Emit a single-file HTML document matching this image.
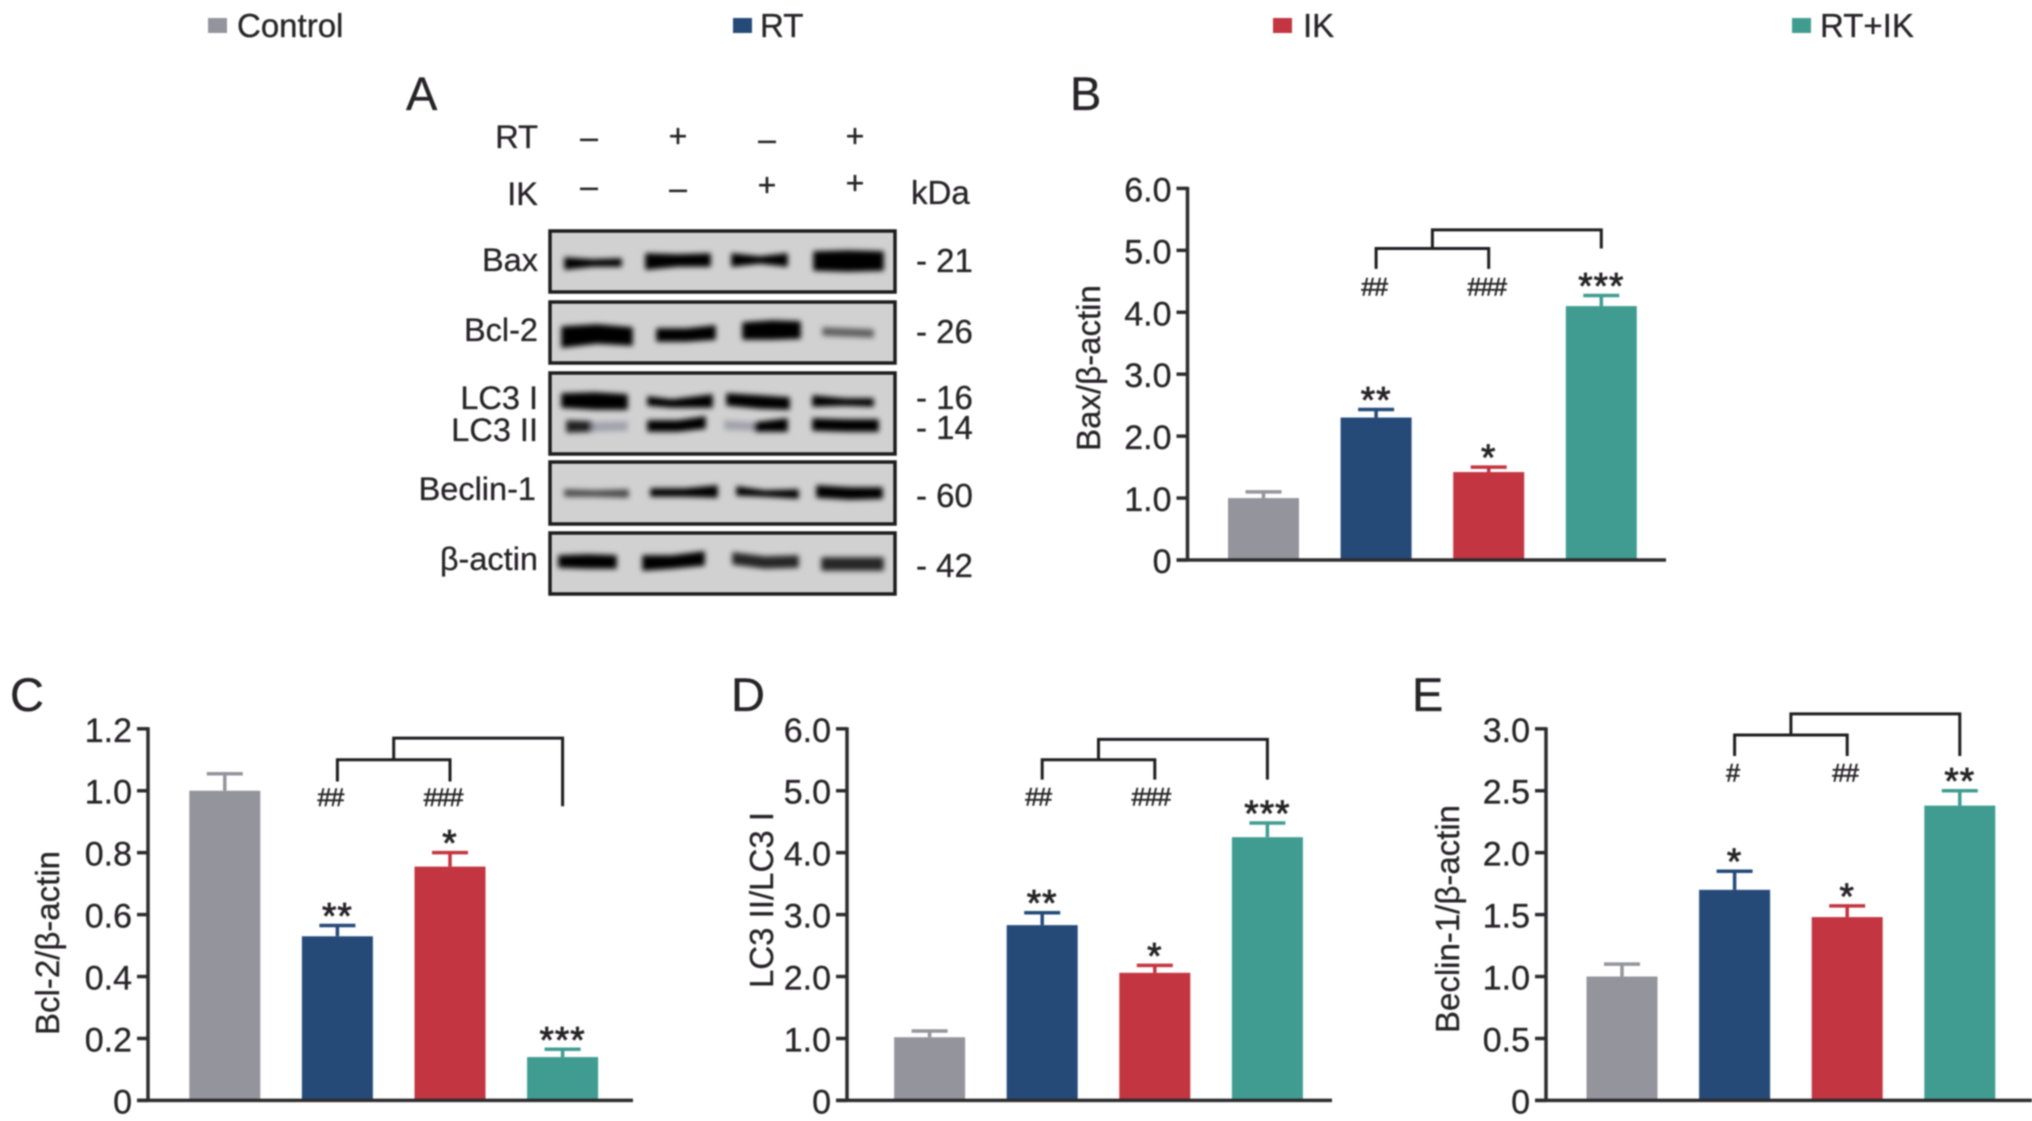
<!DOCTYPE html>
<html lang="en">
<head>
<meta charset="utf-8">
<title>Western blot and densitometry panels</title>
<style>
html,body{margin:0;padding:0;background:#fff;}
body{width:2032px;height:1121px;overflow:hidden;}
svg{display:block;filter:blur(0.7px);}
text{font-family:"Liberation Sans",sans-serif;fill:#262426;stroke:#262426;stroke-width:0.3px;}
.wb{font-size:33px;}
.wbr{font-size:32.5px;text-anchor:end;}
.sign{font-size:32px;text-anchor:middle;}
.letter{font-size:47px;}
.legend{font-size:33px;}
.bands polygon{stroke:currentColor;stroke-width:1.5px;}
</style>
</head>
<body>
<svg id="figure" xmlns="http://www.w3.org/2000/svg" width="2032" height="1121" viewBox="0 0 2032 1121">
<defs>
<filter id="bandBlur" x="-20%" y="-80%" width="140%" height="260%"><feGaussianBlur stdDeviation="2.7"/></filter>
</defs>

<g>
<g><rect x="208" y="18" width="19" height="15" fill="#94949c"/><text class="legend" x="237" y="37">Control</text></g>
<g><rect x="733" y="18" width="19" height="15" fill="#254a78"/><text class="legend" x="760" y="37">RT</text></g>
<g><rect x="1273" y="18" width="19" height="15" fill="#c23541"/><text class="legend" x="1303" y="37">IK</text></g>
<g><rect x="1792" y="18" width="19" height="15" fill="#409c90"/><text class="legend" x="1820" y="37">RT+IK</text></g>
</g>

<g>
<text class="letter" x="406" y="110">A</text>
<text class="wbr" x="538" y="148">RT</text>
<text class="wbr" x="538" y="205">IK</text>
<g>
<text class="sign" x="589" y="148">–</text><text class="sign" x="678" y="147">+</text><text class="sign" x="767" y="150">–</text><text class="sign" x="855" y="147">+</text>
<text class="sign" x="589" y="197">–</text><text class="sign" x="678" y="199">–</text><text class="sign" x="767" y="196">+</text><text class="sign" x="855" y="194">+</text>
</g>
<text class="wb" x="911" y="204">kDa</text>

<g>
<rect x="550" y="231" width="345" height="61" fill="#d1d1d1" stroke="#1c1c1c" stroke-width="3.5"/>
<g class="bands" filter="url(#bandBlur)" fill="#050505" color="#050505">
<polygon points="565,258 593,260 621,259 621,266 593,266 565,269"/>
<polygon points="646,254 678,255 710,254 710,266 678,266 646,269"/>
<polygon points="732,254 760,257 787,254 787,266 760,263 732,266"/>
<polygon points="814,252 848,251 883,252 883,270 848,271 814,270"/>
</g>
</g>
<g>
<rect x="550" y="302" width="345" height="61" fill="#d1d1d1" stroke="#1c1c1c" stroke-width="3.5"/>
<g class="bands" filter="url(#bandBlur)" fill="#050505" color="#050505">
<polygon points="562,327 597,325 632,328 632,345 597,343 562,347"/>
<polygon points="657,329 686,329 715,326 715,339 686,341 657,341"/>
<polygon points="743,323 772,321 800,322 800,338 772,339 743,339"/>
<polygon points="823,328 848,329 873,330 873,337 848,336 823,335" opacity="0.55"/>
</g>
</g>
<g>
<rect x="550" y="373" width="345" height="81" fill="#d1d1d1" stroke="#1c1c1c" stroke-width="3.5"/>
<g class="bands" filter="url(#bandBlur)" fill="#050505" color="#050505">
<polygon points="562,394 595,393 627,395 627,409 595,409 562,407"/>
<polygon points="648,397 672,400 712,395 712,407 672,407 648,405" />
<polygon points="727,394 760,396 789,398 789,409 760,408 727,405"/>
<polygon points="813,396 845,399 873,399 873,406 845,405 813,406"/>
<polygon points="567,421 592,422 592,431 567,432" opacity="0.85"/>
<polygon points="592,423 627,422 627,430 592,431" fill="#8c8c9c" color="#8c8c9c" opacity="0.7"/>
<polygon points="648,421 678,421 705,417 705,428 678,431 648,431"/>
<polygon points="725,421 755,423 755,430 725,429" fill="#8c8c9c" color="#8c8c9c" opacity="0.7"/>
<polygon points="755,423 787,419 787,431 755,431"/>
<polygon points="813,419 845,420 878,420 878,431 845,431 813,430"/>
</g>
</g>
<g>
<rect x="550" y="462" width="345" height="62" fill="#d1d1d1" stroke="#1c1c1c" stroke-width="3.5"/>
<g class="bands" filter="url(#bandBlur)" fill="#050505" color="#050505">
<polygon points="565,490 595,491 628,490 628,497 595,496 565,496" opacity="0.65"/>
<polygon points="651,489 685,489 717,486 717,497 685,496 651,496"/>
<polygon points="737,487 765,491 798,490 798,498 765,496 737,495"/>
<polygon points="817,486 850,488 882,488 882,498 850,499 817,497"/>
</g>
</g>
<g>
<rect x="550" y="533" width="345" height="61" fill="#d1d1d1" stroke="#1c1c1c" stroke-width="3.5"/>
<g class="bands" filter="url(#bandBlur)" fill="#050505" color="#050505">
<polygon points="559,556 588,555 616,556 616,568 588,568 559,567"/>
<polygon points="643,556 672,556 704,552 704,565 672,568 643,570"/>
<polygon points="733,553 765,557 798,556 798,567 765,568 733,564" opacity="0.82"/>
<polygon points="822,558 852,558 883,558 883,570 852,570 822,570" opacity="0.82"/>
</g>
</g>

<text class="wbr" x="538" y="271">Bax</text>
<text class="wbr" x="538" y="341">Bcl-2</text>
<text class="wbr" x="538" y="409">LC3 I</text>
<text class="wbr" x="538" y="441">LC3 II</text>
<text class="wbr" x="536" y="500">Beclin-1</text>
<text class="wbr" x="538" y="570">β-actin</text>

<g>
<text class="wb" x="916" y="272">- 21</text>
<text class="wb" x="916" y="343">- 26</text>
<text class="wb" x="916" y="409">- 16</text>
<text class="wb" x="916" y="439">- 14</text>
<text class="wb" x="916" y="507">- 60</text>
<text class="wb" x="916" y="577">- 42</text>
</g>
</g>
</svg>

<script>
const categories = ['Control', 'RT', 'IK', 'RT+IK'];
const barColors = ['#94949c', '#254a78', '#c23541', '#409c90'];

const panelBValues = [1.0, 2.3, 1.42, 4.1];
const panelBErrors = [0.1, 0.13, 0.08, 0.17];
const panelBTicks = [0, 1, 2, 3, 4, 5, 6];
const panelBTickLabels = ['0', '1.0', '2.0', '3.0', '4.0', '5.0', '6.0'];
const panelBStars = ['', '**', '*', '***'];
const panelBHashes = ['', '##', '###', ''];
const panelBHashLevel = [4.4];
const panelBInnerBracket = [5.03, 4.7, 4.7];
const panelBOuterBracket = [5.33, 5.03, 5.03];

const panelCValues = [1.0, 0.53, 0.755, 0.14];
const panelCErrors = [0.055, 0.035, 0.045, 0.025];
const panelCTicks = [0, 0.2, 0.4, 0.6, 0.8, 1.0, 1.2];
const panelCTickLabels = ['0', '0.2', '0.4', '0.6', '0.8', '1.0', '1.2'];
const panelCStars = ['', '**', '*', '***'];
const panelCHashes = ['', '##', '###', ''];
const panelCHashLevel = [0.977];
const panelCInnerBracket = [1.1, 1.03, 1.03];
const panelCOuterBracket = [1.17, 1.1, 0.95];

const panelDValues = [1.02, 2.83, 2.06, 4.25];
const panelDErrors = [0.1, 0.2, 0.12, 0.23];
const panelDTicks = [0, 1, 2, 3, 4, 5, 6];
const panelDTickLabels = ['0', '1.0', '2.0', '3.0', '4.0', '5.0', '6.0'];
const panelDStars = ['', '**', '*', '***'];
const panelDHashes = ['', '##', '###', ''];
const panelDHashLevel = [4.89];
const panelDInnerBracket = [5.5, 5.18, 5.18];
const panelDOuterBracket = [5.83, 5.5, 5.18];

const panelEValues = [1.0, 1.7, 1.48, 2.38];
const panelEErrors = [0.1, 0.15, 0.09, 0.12];
const panelETicks = [0, 0.5, 1.0, 1.5, 2.0, 2.5, 3.0];
const panelETickLabels = ['0', '0.5', '1.0', '1.5', '2.0', '2.5', '3.0'];
const panelEStars = ['', '*', '*', '**'];
const panelEHashes = ['', '#', '##', ''];
const panelEHashLevel = [2.64];
const panelEInnerBracket = [2.95, 2.78, 2.78];
const panelEOuterBracket = [3.12, 2.95, 2.78];

const svgNS = 'http://www.w3.org/2000/svg';
const figure = document.getElementById('figure');

function add(parent, tag, attrs, content) {
  const el = document.createElementNS(svgNS, tag);
  for (const k in attrs) el.setAttribute(k, attrs[k]);
  if (content !== undefined) el.textContent = content;
  parent.appendChild(el);
  return el;
}

function drawPanel(p) {
  const g = add(figure, 'g', {});
  
  
  const y = v => p.bottom - (v / p.yMax) * (p.bottom - p.top);
  const x = i => p.x0 + p.step * i;
  const ink = '#2c2c2e';

  const letter = add(g, 'text', {x: p.letterX, y: p.letterY, 'font-size': 47}, p.letter);
  
  

  const yLabel = add(g, 'text', {x: p.titleX, y: p.titleY, 'font-size': 33, 'text-anchor': 'middle', transform: 'rotate(-90 ' + p.titleX + ' ' + p.titleY + ')'}, p.title);
  
  

  p.values.forEach((v, i) => {
    const bw = p.barWidth;
    const bar = add(g, 'rect', {x: x(i) - bw / 2, y: y(v), width: bw, height: p.bottom - y(v), fill: barColors[i]});
    
    

    const top = y(v + p.errors[i]);
    const err = add(g, 'path', {d: 'M' + x(i) + ' ' + y(v) + 'V' + top + 'M' + (x(i) - 18) + ' ' + top + 'H' + (x(i) + 18), stroke: barColors[i], 'stroke-width': 3.5, fill: 'none'});
    
    

    if (p.stars[i]) {
      const star = add(g, 'text', {x: x(i), y: top + 3, 'font-size': 37, 'text-anchor': 'middle', 'letter-spacing': 1, style: 'stroke-width:0.8px'}, p.stars[i]);
      
      
    }
    if (p.hashes[i]) {
      const hash = add(g, 'text', {x: x(i) + p.hashShift, y: y(p.hashLevel[0]) + 8, 'font-size': 25, 'text-anchor': 'middle', 'letter-spacing': -1, style: 'stroke-width:0.6px'}, p.hashes[i]);
      
      
    }
  });

  const yAxis = add(g, 'line', {x1: p.axisX, x2: p.axisX, y1: p.top - 1.5, y2: p.bottom, stroke: ink, 'stroke-width': 3.5});
  
  
  const xAxis = add(g, 'line', {x1: p.axisX - 11, x2: p.right, y1: p.bottom, y2: p.bottom, stroke: ink, 'stroke-width': 3.5});
  
  

  p.ticks.forEach((t, i) => {
    const tick = add(g, 'line', {x1: p.axisX - 11, x2: p.axisX, y1: y(t), y2: y(t), stroke: ink, 'stroke-width': 3.5});
    
    
    const label = add(g, 'text', {x: p.axisX - 16, y: y(t) + 13, 'font-size': 34, 'text-anchor': 'end'}, p.tickLabels[i]);
    
    
  });

  const inner = p.inner, outer = p.outer;
  const mid = (x(1) + x(2)) / 2;
  const innerPath = add(g, 'path', {d: 'M' + x(1) + ' ' + y(inner[1]) + 'V' + y(inner[0]) + 'H' + x(2) + 'V' + y(inner[2]), stroke: '#1e1e20', 'stroke-width': 3, fill: 'none'});
  
  
  const outerPath = add(g, 'path', {d: 'M' + mid + ' ' + y(outer[1]) + 'V' + y(outer[0]) + 'H' + x(3) + 'V' + y(outer[2]), stroke: '#1e1e20', 'stroke-width': 3, fill: 'none'});
  
  
}

drawPanel({name: 'panel-b-bax-chart', letter: 'B', letterX: 1070, letterY: 110, title: 'Bax/β-actin', titleX: 1100, titleY: 368,
  axisX: 1187.5, top: 188.4, bottom: 560, yMax: 6, x0: 1263.5, step: 112.6, barWidth: 71, right: 1666, hashShift: -2,
  values: panelBValues, errors: panelBErrors, ticks: panelBTicks, tickLabels: panelBTickLabels, stars: panelBStars, hashes: panelBHashes, hashLevel: panelBHashLevel, inner: panelBInnerBracket, outer: panelBOuterBracket});
drawPanel({name: 'panel-c-bcl-2-chart', letter: 'C', letterX: 10, letterY: 711, title: 'Bcl-2/β-actin', titleX: 59, titleY: 943,
  axisX: 148, top: 728.8, bottom: 1100.4, yMax: 1.2, x0: 224.8, step: 112.6, barWidth: 71, right: 633, hashShift: -7,
  values: panelCValues, errors: panelCErrors, ticks: panelCTicks, tickLabels: panelCTickLabels, stars: panelCStars, hashes: panelCHashes, hashLevel: panelCHashLevel, inner: panelCInnerBracket, outer: panelCOuterBracket});
drawPanel({name: 'panel-d-lc3-chart', letter: 'D', letterX: 731, letterY: 711, title: 'LC3 II/LC3 I', titleX: 773, titleY: 900,
  axisX: 847, top: 728.8, bottom: 1100.4, yMax: 6, x0: 929.6, step: 112.6, barWidth: 71, right: 1332, hashShift: -4,
  values: panelDValues, errors: panelDErrors, ticks: panelDTicks, tickLabels: panelDTickLabels, stars: panelDStars, hashes: panelDHashes, hashLevel: panelDHashLevel, inner: panelDInnerBracket, outer: panelDOuterBracket});
drawPanel({name: 'panel-e-beclin-1-chart', letter: 'E', letterX: 1412, letterY: 711, title: 'Beclin-1/β-actin', titleX: 1459, titleY: 919,
  axisX: 1546, top: 728.8, bottom: 1100.4, yMax: 3, x0: 1622, step: 112.6, barWidth: 71, right: 2032, hashShift: -2,
  values: panelEValues, errors: panelEErrors, ticks: panelETicks, tickLabels: panelETickLabels, stars: panelEStars, hashes: panelEHashes, hashLevel: panelEHashLevel, inner: panelEInnerBracket, outer: panelEOuterBracket});
</script>
</body>
</html>
